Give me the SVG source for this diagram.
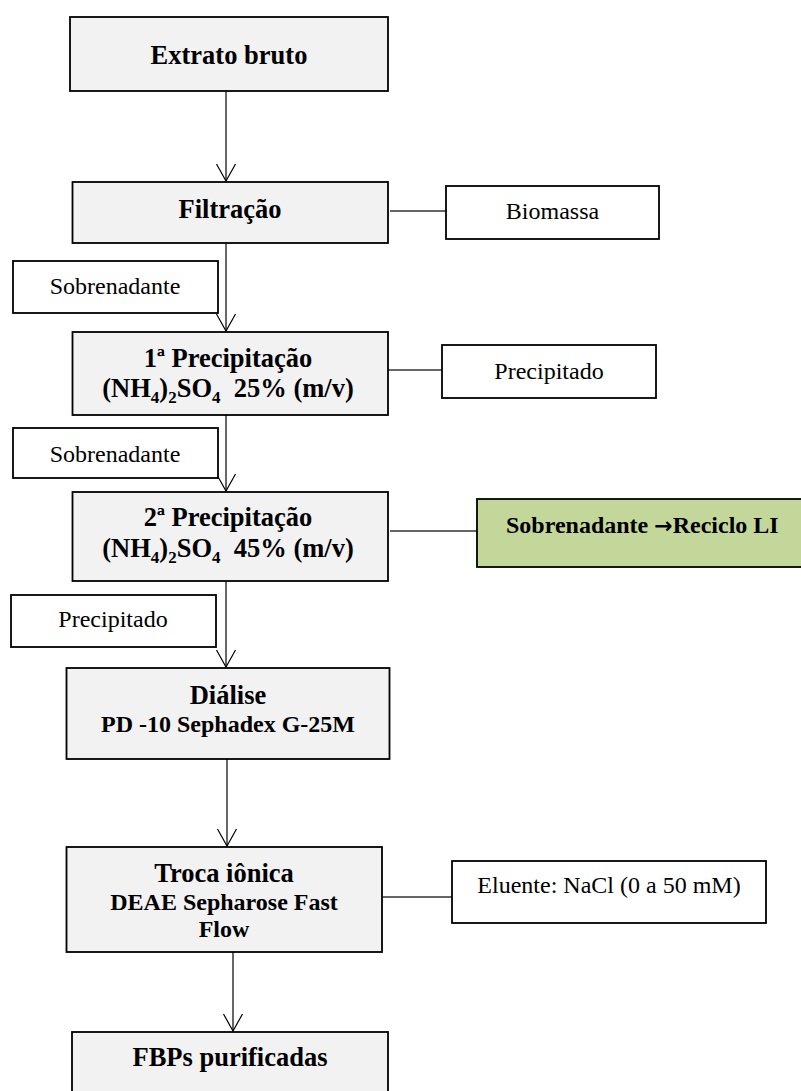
<svg xmlns="http://www.w3.org/2000/svg" width="801" height="1091" viewBox="0 0 801 1091">
<style>
.main{fill:#f2f2f2;stroke:#000;stroke-width:1.8}
.side{fill:#fff;stroke:#000;stroke-width:1.8}
.green{fill:#c4d79b;stroke:#000;stroke-width:1.8}
.h{font-family:"Liberation Serif","Times New Roman",serif;font-weight:bold;font-size:26.5px;fill:#000;text-anchor:middle}
.s{font-family:"Liberation Serif","Times New Roman",serif;font-weight:bold;font-size:24px;fill:#000;text-anchor:middle}
.r{font-family:"Liberation Serif","Times New Roman",serif;font-size:24px;fill:#000;text-anchor:middle}
.v{stroke:#000;stroke-width:1.2;fill:none}
.hl{stroke:#333;stroke-width:1.6;fill:none}
</style>
<defs>
<marker id="arr" markerUnits="userSpaceOnUse" markerWidth="20" markerHeight="22" viewBox="-19 -11 20 22" refX="0" refY="0" orient="auto">
<polyline points="-17,-9.5 0,0 -17,9.5" fill="none" stroke="#000" stroke-width="1.2"/>
</marker>
</defs>
<g id="connectors">
<line class="v" x1="226" y1="91" x2="226" y2="181" marker-end="url(#arr)"/>
<line class="v" x1="226" y1="243" x2="226" y2="331" marker-end="url(#arr)"/>
<line class="v" x1="226" y1="415" x2="226" y2="491" marker-end="url(#arr)"/>
<line class="v" x1="226" y1="581" x2="226" y2="667" marker-end="url(#arr)"/>
<line class="v" x1="227" y1="759" x2="227" y2="846" marker-end="url(#arr)"/>
<line class="v" x1="233" y1="952" x2="233" y2="1031" marker-end="url(#arr)"/>
<line class="hl" x1="390" y1="211" x2="446" y2="211"/>
<line class="hl" x1="388" y1="370" x2="442" y2="370"/>
<line class="hl" x1="390" y1="531" x2="477" y2="531"/>
<line class="hl" x1="382" y1="897" x2="452" y2="897"/>
</g>
<g id="extrato">
<rect class="main" x="70" y="17" width="318" height="74"/>
<text class="h" x="229" y="63.5">Extrato bruto</text>
</g>
<g id="filtracao">
<rect class="main" x="72.5" y="182" width="315.5" height="61"/>
<text class="h" x="230" y="218">Filtração</text>
</g>
<g id="biomassa">
<rect class="side" x="446" y="186" width="213" height="53"/>
<text class="r" x="552.5" y="218.5">Biomassa</text>
</g>
<g id="sobrenadante1">
<rect class="side" x="13" y="261" width="205" height="52"/>
<text class="r" x="115" y="294">Sobrenadante</text>
</g>
<g id="precip1">
<rect class="main" x="72.5" y="332" width="315.5" height="83"/>
<text class="h" x="228" y="367">1ª Precipitação</text>
<text class="h" x="228" y="397">(NH<tspan font-size="17" dy="6">4</tspan><tspan dy="-6">)</tspan><tspan font-size="17" dy="6">2</tspan><tspan dy="-6">SO</tspan><tspan font-size="17" dy="6">4</tspan><tspan dy="-6" xml:space="preserve">  25% (m/v)</tspan></text>
</g>
<g id="precipitado1">
<rect class="side" x="442" y="345" width="214" height="53"/>
<text class="r" x="549" y="379">Precipitado</text>
</g>
<g id="sobrenadante2">
<rect class="side" x="13" y="428" width="205" height="50"/>
<text class="r" x="115" y="462">Sobrenadante</text>
</g>
<g id="precip2">
<rect class="main" x="72.5" y="492" width="315.5" height="89"/>
<text class="h" x="228" y="526">2ª Precipitação</text>
<text class="h" x="228" y="557">(NH<tspan font-size="17" dy="6">4</tspan><tspan dy="-6">)</tspan><tspan font-size="17" dy="6">2</tspan><tspan dy="-6">SO</tspan><tspan font-size="17" dy="6">4</tspan><tspan dy="-6" xml:space="preserve">  45% (m/v)</tspan></text>
</g>
<g id="reciclo">
<rect class="green" x="477" y="499" width="330" height="68"/>
<text class="s" x="506" y="533" style="text-anchor:start">Sobrenadante <tspan style="font-family:'DejaVu Sans',sans-serif;font-size:22px">→</tspan>Reciclo LI</text>
</g>
<g id="precipitado2">
<rect class="side" x="11" y="595" width="205" height="52"/>
<text class="r" x="113" y="627">Precipitado</text>
</g>
<g id="dialise">
<rect class="main" x="66.5" y="668" width="323" height="91"/>
<text class="h" x="228" y="704">Diálise</text>
<text class="s" x="228" y="732">PD -10 Sephadex G-25M</text>
</g>
<g id="troca">
<rect class="main" x="66.5" y="847" width="315.5" height="105"/>
<text class="h" x="224" y="882">Troca iônica</text>
<text class="s" x="224" y="910">DEAE Sepharose Fast</text>
<text class="s" x="224" y="937">Flow</text>
</g>
<g id="eluente">
<rect class="side" x="452" y="861" width="314" height="62"/>
<text class="r" x="609" y="893">Eluente: NaCl (0 a 50 mM)</text>
</g>
<g id="fbps">
<rect class="main" x="72" y="1032" width="316" height="80"/>
<text class="h" x="230" y="1066">FBPs purificadas</text>
</g>
</svg>
